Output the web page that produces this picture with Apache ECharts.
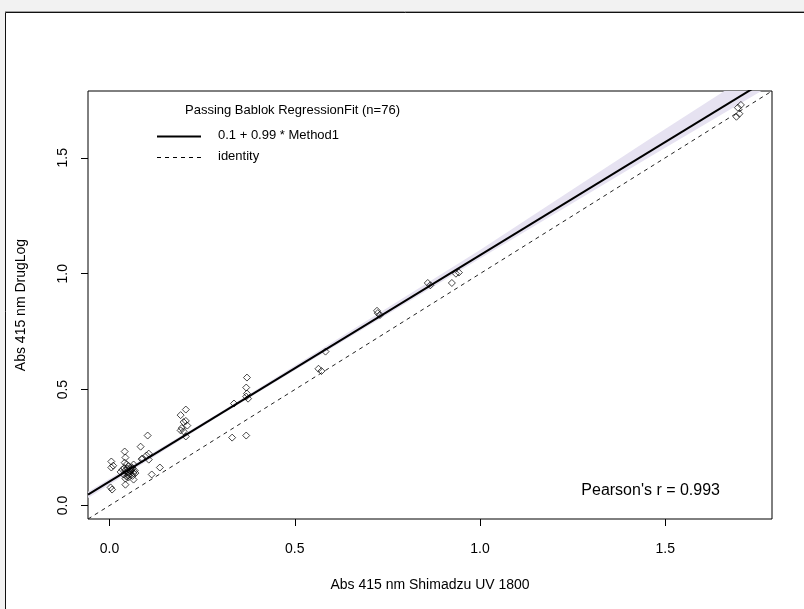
<!DOCTYPE html>
<html>
<head>
<meta charset="utf-8">
<script src="https://cdn.jsdelivr.net/npm/echarts@6/dist/echarts.min.js"></script>
<style>
html,body{margin:0;padding:0;background:#f2f2f2;}
#chart{width:804px;height:609px;}
</style>
</head>
<body>
<div id="chart"></div>
<script>
// Method comparison data (Abs 415 nm)
var shimadzuX = [0.005,0.010,0.005,0.003,0.007,0.041,0.043,0.041,0.046,0.035,0.043,0.051,0.057,0.059,0.068,0.038,0.046,0.043,0.051,0.065,0.043,0.065,0.062,0.070,0.084,0.089,0.100,0.106,0.106,0.103,0.114,0.136,0.192,0.206,0.200,0.206,0.195,0.192,0.200,0.206,0.371,0.369,0.371,0.369,0.374,0.336,0.331,0.369,0.583,0.564,0.572,0.722,0.724,0.730,0.859,0.866,0.924,0.935,0.943,1.696,1.704,1.692,1.700,0.048,0.055,0.060,0.052,0.047,0.062,0.040,0.056,0.030,0.050,0.210,0.087,0.065];
var drugLogY  = [0.190,0.172,0.164,0.078,0.069,0.233,0.207,0.185,0.177,0.155,0.151,0.142,0.147,0.155,0.151,0.134,0.125,0.116,0.121,0.112,0.090,0.177,0.160,0.140,0.254,0.203,0.216,0.224,0.198,0.302,0.134,0.164,0.390,0.414,0.360,0.365,0.334,0.324,0.320,0.298,0.552,0.509,0.483,0.470,0.461,0.440,0.293,0.302,0.664,0.590,0.580,0.840,0.830,0.822,0.960,0.950,0.960,1.000,1.005,1.716,1.728,1.677,1.690,0.160,0.135,0.165,0.170,0.145,0.128,0.162,0.152,0.145,0.130,0.345,0.200,0.140];

// Passing-Bablok fit (as drawn)
var fitIntercept = 0.104;
var fitSlope = 0.976;

// confidence band edges
var bandX     = [-0.058, 0.3, 1.0, 1.46, 1.788];
var bandUpper = [0.060, 0.404, 1.102, 1.583, 1.920];
var bandLower = [0.033, 0.391, 1.066, 1.505, 1.815];

var axisMin = -0.058, axisMax = 1.788;
var tickValues = [0, 0.5, 1.0, 1.5];
var tickLabels = ['0.0', '0.5', '1.0', '1.5'];

var FONT = "'Liberation Sans', Arial, sans-serif";

var points = shimadzuX.map(function (x, i) { return [x, drugLogY[i]]; });
var fitLine = [[axisMin, fitIntercept + fitSlope * axisMin], [axisMax, fitIntercept + fitSlope * axisMax]];
var identityLine = [[axisMin, axisMin], [axisMax, axisMax]];

var chart = echarts.init(document.getElementById('chart'), null, {renderer: 'canvas'});

function axisCommon(isY) {
  return {
    type: 'value',
    min: axisMin,
    max: axisMax,
    axisLine: {show: false, onZero: false},
    splitLine: {show: false},
    axisTick: {show: true, inside: false, length: 7, customValues: tickValues, lineStyle: {color: '#000', width: 1}},
    axisLabel: {
      show: true,
      customValues: tickValues,
      rotate: isY ? 90 : 0,
      margin: isY ? 18 : 23,
      color: '#000',
      fontSize: 14,
      fontFamily: FONT,
      formatter: function (v) {
        var idx = tickValues.indexOf(v);
        return idx >= 0 ? tickLabels[idx] : '';
      }
    },
    nameLocation: 'middle',
    nameTextStyle: {color: '#000', fontSize: 14, fontFamily: FONT}
  };
}

var xAxis = axisCommon(false);
xAxis.name = 'Abs 415 nm Shimadzu UV 1800';
xAxis.nameGap = 59;
var yAxis = axisCommon(true);
yAxis.name = 'Abs 415 nm DrugLog';
yAxis.nameGap = 60;

var option = {
  backgroundColor: '#f2f2f2',
  animation: false,
  graphic: [
    {type: 'rect', z: -10, silent: true, shape: {x: 5.5, y: 12.5, width: 900, height: 700}, style: {fill: '#fff', stroke: '#111', lineWidth: 1}},
    {type: 'line', z: -9, silent: true, shape: {x1: 5, y1: 11.5, x2: 804, y2: 11.5}, style: {stroke: '#a0a0a0', lineWidth: 1}},
    {type: 'text', left: 185, top: 104, style: {text: 'Passing Bablok RegressionFit (n=76)', fill: '#000', font: '13px ' + FONT}},
    {type: 'line', shape: {x1: 157, y1: 136.5, x2: 201, y2: 136.5}, style: {stroke: '#000', lineWidth: 2}},
    {type: 'text', left: 218, top: 129, style: {text: '0.1 + 0.99 * Method1', fill: '#000', font: '13px ' + FONT}},
    {type: 'line', shape: {x1: 157, y1: 157.5, x2: 201, y2: 157.5}, style: {stroke: '#000', lineWidth: 1, lineDash: [4, 4]}},
    {type: 'text', left: 218, top: 150, style: {text: 'identity', fill: '#000', font: '13px ' + FONT}},
    {type: 'text', right: 84, top: 483, style: {text: "Pearson's r = 0.993", fill: '#000', font: '16px ' + FONT}}
  ],
  grid: {left: 88, top: 91, right: 32, bottom: 90, show: true, borderColor: '#000', borderWidth: 1, backgroundColor: 'transparent', containLabel: false, outerBoundsMode: 'none'},
  xAxis: xAxis,
  yAxis: yAxis,
  series: [
    {
      type: 'custom',
      name: 'band',
      clip: true,
      silent: true,
      z: 1,
      data: [0],
      renderItem: function (params, api) {
        var pts = [];
        for (var i = 0; i < bandX.length; i++) pts.push(api.coord([bandX[i], bandUpper[i]]));
        for (var j = bandX.length - 1; j >= 0; j--) pts.push(api.coord([bandX[j], bandLower[j]]));
        return {type: 'polygon', shape: {points: pts}, style: {fill: '#e6e2f1', stroke: null}};
      }
    },
    {
      type: 'line', name: 'identity', data: identityLine, symbol: 'none', clip: true, z: 2,
      lineStyle: {color: '#222', width: 1, type: [4, 4]}
    },
    {
      type: 'line', name: 'fit', data: fitLine, symbol: 'none', clip: true, z: 3,
      lineStyle: {color: '#000', width: 2}
    },
    {
      type: 'scatter', name: 'data', data: points, symbol: 'diamond', symbolSize: 7, z: 4,
      itemStyle: {color: 'rgba(0,0,0,0)', borderColor: '#000', borderWidth: 0.9}
    }
  ]
};
chart.setOption(option);
</script>
</body>
</html>
